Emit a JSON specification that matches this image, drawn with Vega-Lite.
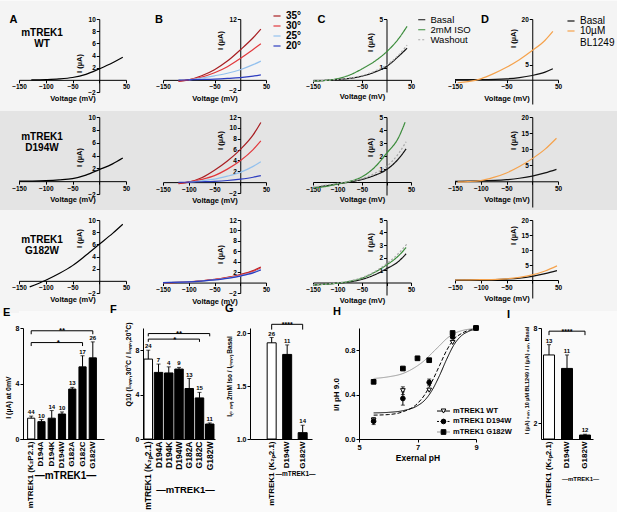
{
  "$schema": "https://vega.github.io/schema/vega-lite/v6.json",
  "background": "#fafafa",
  "padding": 0,
  "datasets": {
    "iv": [
      {"row":"WT","panel":"A","series":"Basal","v":-127,"i":0},{"row":"WT","panel":"A","series":"Basal","v":-100,"i":0.05},{"row":"WT","panel":"A","series":"Basal","v":-75,"i":0.15},{"row":"WT","panel":"A","series":"Basal","v":-50,"i":0.38},{"row":"WT","panel":"A","series":"Basal","v":-25,"i":0.9},{"row":"WT","panel":"A","series":"Basal","v":0,"i":1.8},{"row":"WT","panel":"A","series":"Basal","v":25,"i":2.8},{"row":"WT","panel":"A","series":"Basal","v":44,"i":3.7},
      {"row":"WT","panel":"B","series":"35°","v":-120,"i":-0.3},{"row":"WT","panel":"B","series":"35°","v":-100,"i":0},{"row":"WT","panel":"B","series":"35°","v":-75,"i":0.8},{"row":"WT","panel":"B","series":"35°","v":-50,"i":2.0},{"row":"WT","panel":"B","series":"35°","v":-25,"i":3.7},{"row":"WT","panel":"B","series":"35°","v":0,"i":5.9},{"row":"WT","panel":"B","series":"35°","v":25,"i":8.3},{"row":"WT","panel":"B","series":"35°","v":40,"i":10.0},
      {"row":"WT","panel":"B","series":"30°","v":-120,"i":-0.2},{"row":"WT","panel":"B","series":"30°","v":-100,"i":0},{"row":"WT","panel":"B","series":"30°","v":-75,"i":0.55},{"row":"WT","panel":"B","series":"30°","v":-50,"i":1.4},{"row":"WT","panel":"B","series":"30°","v":-25,"i":2.6},{"row":"WT","panel":"B","series":"30°","v":0,"i":4.2},{"row":"WT","panel":"B","series":"30°","v":25,"i":6.0},{"row":"WT","panel":"B","series":"30°","v":40,"i":7.1},
      {"row":"WT","panel":"B","series":"25°","v":-100,"i":0},{"row":"WT","panel":"B","series":"25°","v":-75,"i":0.35},{"row":"WT","panel":"B","series":"25°","v":-50,"i":0.8},{"row":"WT","panel":"B","series":"25°","v":-25,"i":1.3},{"row":"WT","panel":"B","series":"25°","v":0,"i":2.0},{"row":"WT","panel":"B","series":"25°","v":25,"i":3.0},{"row":"WT","panel":"B","series":"25°","v":40,"i":3.7},
      {"row":"WT","panel":"B","series":"20°","v":-120,"i":-0.05},{"row":"WT","panel":"B","series":"20°","v":-100,"i":0},{"row":"WT","panel":"B","series":"20°","v":-75,"i":0.07},{"row":"WT","panel":"B","series":"20°","v":-50,"i":0.15},{"row":"WT","panel":"B","series":"20°","v":-25,"i":0.28},{"row":"WT","panel":"B","series":"20°","v":0,"i":0.45},{"row":"WT","panel":"B","series":"20°","v":25,"i":0.75},{"row":"WT","panel":"B","series":"20°","v":40,"i":1.0},
      {"row":"WT","panel":"C","series":"Basal","v":-150,"i":-0.1},{"row":"WT","panel":"C","series":"Basal","v":-125,"i":-0.05},{"row":"WT","panel":"C","series":"Basal","v":-100,"i":0.03},{"row":"WT","panel":"C","series":"Basal","v":-75,"i":0.12},{"row":"WT","panel":"C","series":"Basal","v":-50,"i":0.3},{"row":"WT","panel":"C","series":"Basal","v":-25,"i":0.62},{"row":"WT","panel":"C","series":"Basal","v":0,"i":1.1},{"row":"WT","panel":"C","series":"Basal","v":25,"i":1.95},{"row":"WT","panel":"C","series":"Basal","v":42,"i":2.6},
      {"row":"WT","panel":"C","series":"2mM ISO","v":-150,"i":-0.1},{"row":"WT","panel":"C","series":"2mM ISO","v":-125,"i":-0.05},{"row":"WT","panel":"C","series":"2mM ISO","v":-100,"i":0.1},{"row":"WT","panel":"C","series":"2mM ISO","v":-75,"i":0.4},{"row":"WT","panel":"C","series":"2mM ISO","v":-50,"i":0.9},{"row":"WT","panel":"C","series":"2mM ISO","v":-25,"i":1.5},{"row":"WT","panel":"C","series":"2mM ISO","v":0,"i":2.3},{"row":"WT","panel":"C","series":"2mM ISO","v":25,"i":3.4},{"row":"WT","panel":"C","series":"2mM ISO","v":42,"i":4.4},
      {"row":"WT","panel":"C","series":"Washout","v":-150,"i":-0.1},{"row":"WT","panel":"C","series":"Washout","v":-100,"i":0.04},{"row":"WT","panel":"C","series":"Washout","v":-75,"i":0.14},{"row":"WT","panel":"C","series":"Washout","v":-50,"i":0.35},{"row":"WT","panel":"C","series":"Washout","v":-25,"i":0.7},{"row":"WT","panel":"C","series":"Washout","v":0,"i":1.2},{"row":"WT","panel":"C","series":"Washout","v":25,"i":2.05},{"row":"WT","panel":"C","series":"Washout","v":42,"i":2.85},
      {"row":"WT","panel":"D","series":"Basal","v":-150,"i":0},{"row":"WT","panel":"D","series":"Basal","v":-100,"i":0.05},{"row":"WT","panel":"D","series":"Basal","v":-50,"i":0.3},{"row":"WT","panel":"D","series":"Basal","v":-25,"i":0.7},{"row":"WT","panel":"D","series":"Basal","v":0,"i":1.4},{"row":"WT","panel":"D","series":"Basal","v":25,"i":2.5},{"row":"WT","panel":"D","series":"Basal","v":40,"i":3.6},
      {"row":"WT","panel":"D","series":"10µM BL1249","v":-145,"i":-1.0},{"row":"WT","panel":"D","series":"10µM BL1249","v":-125,"i":-0.6},{"row":"WT","panel":"D","series":"10µM BL1249","v":-100,"i":0.3},{"row":"WT","panel":"D","series":"10µM BL1249","v":-75,"i":2.0},{"row":"WT","panel":"D","series":"10µM BL1249","v":-50,"i":4.1},{"row":"WT","panel":"D","series":"10µM BL1249","v":-25,"i":6.6},{"row":"WT","panel":"D","series":"10µM BL1249","v":0,"i":9.6},{"row":"WT","panel":"D","series":"10µM BL1249","v":25,"i":13.0},{"row":"WT","panel":"D","series":"10µM BL1249","v":40,"i":15.9},
      {"row":"D194W","panel":"A","series":"Basal","v":-150,"i":0},{"row":"D194W","panel":"A","series":"Basal","v":-125,"i":0.02},{"row":"D194W","panel":"A","series":"Basal","v":-100,"i":0.08},{"row":"D194W","panel":"A","series":"Basal","v":-75,"i":0.2},{"row":"D194W","panel":"A","series":"Basal","v":-50,"i":0.4},{"row":"D194W","panel":"A","series":"Basal","v":-25,"i":0.95},{"row":"D194W","panel":"A","series":"Basal","v":0,"i":1.8},{"row":"D194W","panel":"A","series":"Basal","v":25,"i":2.7},{"row":"D194W","panel":"A","series":"Basal","v":44,"i":3.6},
      {"row":"D194W","panel":"B","series":"35°","v":-120,"i":-0.3},{"row":"D194W","panel":"B","series":"35°","v":-100,"i":0},{"row":"D194W","panel":"B","series":"35°","v":-75,"i":0.8},{"row":"D194W","panel":"B","series":"35°","v":-50,"i":2.2},{"row":"D194W","panel":"B","series":"35°","v":-25,"i":3.9},{"row":"D194W","panel":"B","series":"35°","v":0,"i":6.0},{"row":"D194W","panel":"B","series":"35°","v":25,"i":8.7},{"row":"D194W","panel":"B","series":"35°","v":40,"i":11.0},
      {"row":"D194W","panel":"B","series":"30°","v":-120,"i":-0.2},{"row":"D194W","panel":"B","series":"30°","v":-100,"i":0},{"row":"D194W","panel":"B","series":"30°","v":-75,"i":0.5},{"row":"D194W","panel":"B","series":"30°","v":-50,"i":1.2},{"row":"D194W","panel":"B","series":"30°","v":-25,"i":2.4},{"row":"D194W","panel":"B","series":"30°","v":0,"i":3.95},{"row":"D194W","panel":"B","series":"30°","v":25,"i":6.0},{"row":"D194W","panel":"B","series":"30°","v":40,"i":7.6},
      {"row":"D194W","panel":"B","series":"25°","v":-100,"i":0},{"row":"D194W","panel":"B","series":"25°","v":-75,"i":0.25},{"row":"D194W","panel":"B","series":"25°","v":-50,"i":0.55},{"row":"D194W","panel":"B","series":"25°","v":-25,"i":1.1},{"row":"D194W","panel":"B","series":"25°","v":0,"i":1.8},{"row":"D194W","panel":"B","series":"25°","v":25,"i":2.9},{"row":"D194W","panel":"B","series":"25°","v":40,"i":3.75},
      {"row":"D194W","panel":"B","series":"20°","v":-120,"i":-0.05},{"row":"D194W","panel":"B","series":"20°","v":-100,"i":0},{"row":"D194W","panel":"B","series":"20°","v":-75,"i":0.07},{"row":"D194W","panel":"B","series":"20°","v":-50,"i":0.15},{"row":"D194W","panel":"B","series":"20°","v":-25,"i":0.3},{"row":"D194W","panel":"B","series":"20°","v":0,"i":0.55},{"row":"D194W","panel":"B","series":"20°","v":25,"i":0.9},{"row":"D194W","panel":"B","series":"20°","v":40,"i":1.2},
      {"row":"D194W","panel":"C","series":"Basal","v":-150,"i":-0.45},{"row":"D194W","panel":"C","series":"Basal","v":-125,"i":-0.3},{"row":"D194W","panel":"C","series":"Basal","v":-100,"i":-0.15},{"row":"D194W","panel":"C","series":"Basal","v":-75,"i":0},{"row":"D194W","panel":"C","series":"Basal","v":-50,"i":0.2},{"row":"D194W","panel":"C","series":"Basal","v":-25,"i":0.5},{"row":"D194W","panel":"C","series":"Basal","v":0,"i":0.95},{"row":"D194W","panel":"C","series":"Basal","v":25,"i":1.8},{"row":"D194W","panel":"C","series":"Basal","v":40,"i":2.55},
      {"row":"D194W","panel":"C","series":"2mM ISO","v":-150,"i":-0.45},{"row":"D194W","panel":"C","series":"2mM ISO","v":-125,"i":-0.35},{"row":"D194W","panel":"C","series":"2mM ISO","v":-100,"i":-0.15},{"row":"D194W","panel":"C","series":"2mM ISO","v":-75,"i":0.05},{"row":"D194W","panel":"C","series":"2mM ISO","v":-50,"i":0.4},{"row":"D194W","panel":"C","series":"2mM ISO","v":-25,"i":1.1},{"row":"D194W","panel":"C","series":"2mM ISO","v":0,"i":2.2},{"row":"D194W","panel":"C","series":"2mM ISO","v":25,"i":3.45},{"row":"D194W","panel":"C","series":"2mM ISO","v":38,"i":4.6},
      {"row":"D194W","panel":"C","series":"Washout","v":-150,"i":-0.4},{"row":"D194W","panel":"C","series":"Washout","v":-100,"i":-0.1},{"row":"D194W","panel":"C","series":"Washout","v":-75,"i":0.05},{"row":"D194W","panel":"C","series":"Washout","v":-50,"i":0.25},{"row":"D194W","panel":"C","series":"Washout","v":-25,"i":0.65},{"row":"D194W","panel":"C","series":"Washout","v":0,"i":1.2},{"row":"D194W","panel":"C","series":"Washout","v":25,"i":2.2},{"row":"D194W","panel":"C","series":"Washout","v":40,"i":3.1},
      {"row":"D194W","panel":"D","series":"Basal","v":-150,"i":0},{"row":"D194W","panel":"D","series":"Basal","v":-100,"i":0.1},{"row":"D194W","panel":"D","series":"Basal","v":-50,"i":0.5},{"row":"D194W","panel":"D","series":"Basal","v":-25,"i":0.95},{"row":"D194W","panel":"D","series":"Basal","v":0,"i":1.6},{"row":"D194W","panel":"D","series":"Basal","v":25,"i":2.6},{"row":"D194W","panel":"D","series":"Basal","v":47,"i":3.7},
      {"row":"D194W","panel":"D","series":"10µM BL1249","v":-145,"i":-0.2},{"row":"D194W","panel":"D","series":"10µM BL1249","v":-125,"i":-0.1},{"row":"D194W","panel":"D","series":"10µM BL1249","v":-100,"i":0.2},{"row":"D194W","panel":"D","series":"10µM BL1249","v":-75,"i":1.2},{"row":"D194W","panel":"D","series":"10µM BL1249","v":-50,"i":2.6},{"row":"D194W","panel":"D","series":"10µM BL1249","v":-25,"i":4.6},{"row":"D194W","panel":"D","series":"10µM BL1249","v":0,"i":7.05},{"row":"D194W","panel":"D","series":"10µM BL1249","v":25,"i":10.0},{"row":"D194W","panel":"D","series":"10µM BL1249","v":47,"i":13.4},
      {"row":"G182W","panel":"A","series":"Basal","v":-130,"i":-1.0},{"row":"G182W","panel":"A","series":"Basal","v":-100,"i":0.1},{"row":"G182W","panel":"A","series":"Basal","v":-75,"i":1.2},{"row":"G182W","panel":"A","series":"Basal","v":-50,"i":2.5},{"row":"G182W","panel":"A","series":"Basal","v":-25,"i":4.2},{"row":"G182W","panel":"A","series":"Basal","v":0,"i":6.0},{"row":"G182W","panel":"A","series":"Basal","v":25,"i":7.8},{"row":"G182W","panel":"A","series":"Basal","v":44,"i":9.3},
      {"row":"G182W","panel":"B","series":"35°","v":-150,"i":0},{"row":"G182W","panel":"B","series":"35°","v":-100,"i":0.15},{"row":"G182W","panel":"B","series":"35°","v":-75,"i":0.35},{"row":"G182W","panel":"B","series":"35°","v":-50,"i":0.6},{"row":"G182W","panel":"B","series":"35°","v":-25,"i":1.0},{"row":"G182W","panel":"B","series":"35°","v":0,"i":1.55},{"row":"G182W","panel":"B","series":"35°","v":25,"i":2.3},{"row":"G182W","panel":"B","series":"35°","v":40,"i":3.0},
      {"row":"G182W","panel":"B","series":"30°","v":-150,"i":0},{"row":"G182W","panel":"B","series":"30°","v":-100,"i":0.15},{"row":"G182W","panel":"B","series":"30°","v":-75,"i":0.33},{"row":"G182W","panel":"B","series":"30°","v":-50,"i":0.57},{"row":"G182W","panel":"B","series":"30°","v":-25,"i":0.95},{"row":"G182W","panel":"B","series":"30°","v":0,"i":1.45},{"row":"G182W","panel":"B","series":"30°","v":25,"i":2.15},{"row":"G182W","panel":"B","series":"30°","v":40,"i":2.85},
      {"row":"G182W","panel":"B","series":"25°","v":-150,"i":0},{"row":"G182W","panel":"B","series":"25°","v":-100,"i":0.12},{"row":"G182W","panel":"B","series":"25°","v":-75,"i":0.3},{"row":"G182W","panel":"B","series":"25°","v":-50,"i":0.52},{"row":"G182W","panel":"B","series":"25°","v":-25,"i":0.85},{"row":"G182W","panel":"B","series":"25°","v":0,"i":1.3},{"row":"G182W","panel":"B","series":"25°","v":25,"i":1.95},{"row":"G182W","panel":"B","series":"25°","v":40,"i":2.55},
      {"row":"G182W","panel":"B","series":"20°","v":-150,"i":0},{"row":"G182W","panel":"B","series":"20°","v":-100,"i":0.12},{"row":"G182W","panel":"B","series":"20°","v":-75,"i":0.28},{"row":"G182W","panel":"B","series":"20°","v":-50,"i":0.5},{"row":"G182W","panel":"B","series":"20°","v":-25,"i":0.8},{"row":"G182W","panel":"B","series":"20°","v":0,"i":1.25},{"row":"G182W","panel":"B","series":"20°","v":25,"i":1.85},{"row":"G182W","panel":"B","series":"20°","v":40,"i":2.4},
      {"row":"G182W","panel":"C","series":"Basal","v":-150,"i":-0.2},{"row":"G182W","panel":"C","series":"Basal","v":-100,"i":-0.05},{"row":"G182W","panel":"C","series":"Basal","v":-75,"i":0.05},{"row":"G182W","panel":"C","series":"Basal","v":-50,"i":0.25},{"row":"G182W","panel":"C","series":"Basal","v":-25,"i":0.6},{"row":"G182W","panel":"C","series":"Basal","v":0,"i":1.1},{"row":"G182W","panel":"C","series":"Basal","v":25,"i":1.7},{"row":"G182W","panel":"C","series":"Basal","v":40,"i":2.3},
      {"row":"G182W","panel":"C","series":"2mM ISO","v":-150,"i":-0.2},{"row":"G182W","panel":"C","series":"2mM ISO","v":-100,"i":-0.05},{"row":"G182W","panel":"C","series":"2mM ISO","v":-75,"i":0.1},{"row":"G182W","panel":"C","series":"2mM ISO","v":-50,"i":0.35},{"row":"G182W","panel":"C","series":"2mM ISO","v":-25,"i":0.8},{"row":"G182W","panel":"C","series":"2mM ISO","v":0,"i":1.4},{"row":"G182W","panel":"C","series":"2mM ISO","v":25,"i":2.15},{"row":"G182W","panel":"C","series":"2mM ISO","v":40,"i":2.8},
      {"row":"G182W","panel":"C","series":"Washout","v":-150,"i":-0.2},{"row":"G182W","panel":"C","series":"Washout","v":-100,"i":-0.03},{"row":"G182W","panel":"C","series":"Washout","v":-75,"i":0.12},{"row":"G182W","panel":"C","series":"Washout","v":-50,"i":0.4},{"row":"G182W","panel":"C","series":"Washout","v":-25,"i":0.85},{"row":"G182W","panel":"C","series":"Washout","v":0,"i":1.5},{"row":"G182W","panel":"C","series":"Washout","v":25,"i":2.35},{"row":"G182W","panel":"C","series":"Washout","v":42,"i":3.1},
      {"row":"G182W","panel":"D","series":"Basal","v":-150,"i":0},{"row":"G182W","panel":"D","series":"Basal","v":-100,"i":0.05},{"row":"G182W","panel":"D","series":"Basal","v":-50,"i":0.3},{"row":"G182W","panel":"D","series":"Basal","v":-25,"i":0.6},{"row":"G182W","panel":"D","series":"Basal","v":0,"i":1.2},{"row":"G182W","panel":"D","series":"Basal","v":25,"i":2.1},{"row":"G182W","panel":"D","series":"Basal","v":48,"i":3.1},
      {"row":"G182W","panel":"D","series":"10µM BL1249","v":-150,"i":0},{"row":"G182W","panel":"D","series":"10µM BL1249","v":-100,"i":0.1},{"row":"G182W","panel":"D","series":"10µM BL1249","v":-50,"i":0.4},{"row":"G182W","panel":"D","series":"10µM BL1249","v":-25,"i":0.9},{"row":"G182W","panel":"D","series":"10µM BL1249","v":0,"i":1.7},{"row":"G182W","panel":"D","series":"10µM BL1249","v":25,"i":3.0},{"row":"G182W","panel":"D","series":"10µM BL1249","v":48,"i":4.7}
    ],
    "bars": [
      {"panel":"E","label":"mTREK1 (K₂P2.1)","group":"WT","value":1.5,"upper":1.65,"n":44},
      {"panel":"E","label":"D194A","group":"mutant","value":1.25,"upper":1.4,"n":10},
      {"panel":"E","label":"D194K","group":"mutant","value":1.5,"upper":2.05,"n":14},
      {"panel":"E","label":"D194W","group":"mutant","value":1.8,"upper":1.95,"n":10},
      {"panel":"E","label":"G182A","group":"mutant","value":3.6,"upper":3.72,"n":13},
      {"panel":"E","label":"G182C","group":"mutant","value":5.2,"upper":6.0,"n":17},
      {"panel":"E","label":"G182W","group":"mutant","value":5.85,"upper":7.0,"n":26},
      {"panel":"F","label":"mTREK1 (K₂ₚ2.1)","group":"WT","value":7.2,"upper":8.0,"n":24},
      {"panel":"F","label":"D194A","group":"mutant","value":6.0,"upper":6.75,"n":7},
      {"panel":"F","label":"D194K","group":"mutant","value":5.95,"upper":6.5,"n":4},
      {"panel":"F","label":"D194W","group":"mutant","value":6.3,"upper":6.45,"n":9},
      {"panel":"F","label":"G182A","group":"mutant","value":4.55,"upper":5.45,"n":13},
      {"panel":"F","label":"G182C","group":"mutant","value":3.7,"upper":4.2,"n":15},
      {"panel":"F","label":"G182W","group":"mutant","value":1.35,"upper":1.45,"n":11},
      {"panel":"G","label":"mTREK1 (K₂ₚ2.1)","group":"WT","value":1.91,"upper":1.96,"n":26},
      {"panel":"G","label":"D194W","group":"mutant","value":1.8,"upper":1.89,"n":11},
      {"panel":"G","label":"G182W","group":"mutant","value":1.06,"upper":1.13,"n":14},
      {"panel":"I","label":"mTREK1 (K₂ₚ2.1)","group":"WT","value":6.3,"upper":6.95,"n":13},
      {"panel":"I","label":"D194W","group":"mutant","value":5.45,"upper":6.3,"n":11},
      {"panel":"I","label":"G182W","group":"mutant","value":1.25,"upper":1.3,"n":12}
    ],
    "brackets": [
      {"panel":"E","from":"mTREK1 (K₂P2.1)","to":"G182W","mid":"D194W","y":7.8,"drop":7.55,"stars":"**"},
      {"panel":"E","from":"mTREK1 (K₂P2.1)","to":"G182C","mid":"D194W","y":6.95,"drop":6.7,"stars":"*"},
      {"panel":"F","from":"mTREK1 (K₂ₚ2.1)","to":"G182W","mid":"D194W","y":9.5,"drop":9.25,"stars":"**"},
      {"panel":"F","from":"mTREK1 (K₂ₚ2.1)","to":"G182C","mid":"D194W","y":9.0,"drop":8.75,"stars":"*"},
      {"panel":"G","from":"mTREK1 (K₂ₚ2.1)","to":"G182W","mid":"D194W","y":2.085,"drop":2.035,"stars":"****"},
      {"panel":"I","from":"mTREK1 (K₂ₚ2.1)","to":"G182W","mid":"D194W","y":7.8,"drop":7.55,"stars":"****"}
    ],
    "phpts": [
      {"series":"mTREK1 WT","ph":5.5,"ratio":0.17,"lo":0.15,"hi":0.19},
      {"series":"mTREK1 WT","ph":6.5,"ratio":0.435,"lo":0.4,"hi":0.47},
      {"series":"mTREK1 WT","ph":7.4,"ratio":0.44},
      {"series":"mTREK1 WT","ph":8.2,"ratio":0.87},
      {"series":"mTREK1 WT","ph":9,"ratio":1.0},
      {"series":"mTREK1 D194W","ph":5.5,"ratio":0.16,"lo":0.13,"hi":0.19},
      {"series":"mTREK1 D194W","ph":6.5,"ratio":0.365,"lo":0.305,"hi":0.425},
      {"series":"mTREK1 D194W","ph":7.4,"ratio":0.51,"lo":0.48,"hi":0.54},
      {"series":"mTREK1 D194W","ph":8.2,"ratio":0.92},
      {"series":"mTREK1 D194W","ph":9,"ratio":1.0},
      {"series":"mTREK1 G182W","ph":5.5,"ratio":0.515},
      {"series":"mTREK1 G182W","ph":6.5,"ratio":0.635},
      {"series":"mTREK1 G182W","ph":7.0,"ratio":0.727},
      {"series":"mTREK1 G182W","ph":7.4,"ratio":0.71},
      {"series":"mTREK1 G182W","ph":8.2,"ratio":0.955},
      {"series":"mTREK1 G182W","ph":9,"ratio":1.0}
    ],
    "fits": [
      {"series":"mTREK1 WT","ph":5.5,"ratio":0.235},{"series":"mTREK1 WT","ph":6,"ratio":0.24},{"series":"mTREK1 WT","ph":6.5,"ratio":0.255},{"series":"mTREK1 WT","ph":7,"ratio":0.3},{"series":"mTREK1 WT","ph":7.25,"ratio":0.35},{"series":"mTREK1 WT","ph":7.5,"ratio":0.44},{"series":"mTREK1 WT","ph":7.75,"ratio":0.57},{"series":"mTREK1 WT","ph":8,"ratio":0.72},{"series":"mTREK1 WT","ph":8.25,"ratio":0.85},{"series":"mTREK1 WT","ph":8.5,"ratio":0.93},{"series":"mTREK1 WT","ph":8.75,"ratio":0.97},{"series":"mTREK1 WT","ph":9,"ratio":0.99},
      {"series":"mTREK1 D194W","ph":5.5,"ratio":0.215},{"series":"mTREK1 D194W","ph":6,"ratio":0.22},{"series":"mTREK1 D194W","ph":6.5,"ratio":0.245},{"series":"mTREK1 D194W","ph":7,"ratio":0.32},{"series":"mTREK1 D194W","ph":7.25,"ratio":0.4},{"series":"mTREK1 D194W","ph":7.5,"ratio":0.52},{"series":"mTREK1 D194W","ph":7.75,"ratio":0.66},{"series":"mTREK1 D194W","ph":8,"ratio":0.8},{"series":"mTREK1 D194W","ph":8.25,"ratio":0.9},{"series":"mTREK1 D194W","ph":8.5,"ratio":0.95},{"series":"mTREK1 D194W","ph":8.75,"ratio":0.98},{"series":"mTREK1 D194W","ph":9,"ratio":0.995},
      {"series":"mTREK1 G182W","ph":5.5,"ratio":0.545},{"series":"mTREK1 G182W","ph":6,"ratio":0.56},{"series":"mTREK1 G182W","ph":6.5,"ratio":0.59},{"series":"mTREK1 G182W","ph":7,"ratio":0.66},{"series":"mTREK1 G182W","ph":7.25,"ratio":0.71},{"series":"mTREK1 G182W","ph":7.5,"ratio":0.775},{"series":"mTREK1 G182W","ph":7.75,"ratio":0.84},{"series":"mTREK1 G182W","ph":8,"ratio":0.905},{"series":"mTREK1 G182W","ph":8.25,"ratio":0.95},{"series":"mTREK1 G182W","ph":8.5,"ratio":0.975},{"series":"mTREK1 G182W","ph":9,"ratio":0.995}
    ]
  },
  "spacing": -11,
  "resolve": {"scale": {"color": "independent", "strokeDash": "independent", "fill": "independent", "shape": "independent"}},
  "vconcat": [
    {
      "columns": 7,
      "spacing": {"row": 13, "column": 0},
      "bounds": "flush",
      "resolve": {"scale": {"color": "independent", "strokeDash": "independent", "fill": "independent", "shape": "independent"}},
      "concat": [
        {
          "width": 107, "height": 73,
          "resolve": {"scale": {"x": "independent", "y": "independent"}},
          "layer": [
            {"data": {"values": [{}]}, "mark": {"type": "rect", "color": "#f4f4f4"},
             "encoding": {"x": {"datum": -185.5, "type": "quantitative", "scale": {"domain": [-150, 50], "nice": false, "zero": false}, "axis": null}, "x2": {"datum": 967.8},
                          "y": {"datum": 12.96, "type": "quantitative", "scale": {"domain": [-2, 10], "nice": false, "zero": false}, "axis": null}, "y2": {"datum": -5.12}}},
            {"data": {"values": [{}]}, "mark": {"type": "text", "fontSize": 11},
             "encoding": {"x": {"datum": -160.3, "type": "quantitative", "scale": {"domain": [-150, 50], "nice": false, "zero": false}, "axis": null},
                          "y": {"datum": 9.84, "type": "quantitative", "scale": {"domain": [-2, 10], "nice": false, "zero": false}, "axis": null}, "text": {"value": "A"}}},
            {"data": {"values": [{}]}, "mark": {"type": "text", "fontSize": 10, "lineHeight": 11},
             "encoding": {"x": {"datum": -107, "type": "quantitative", "scale": {"domain": [-150, 50], "nice": false, "zero": false}, "axis": null},
                          "y": {"datum": 7.78, "type": "quantitative", "scale": {"domain": [-2, 10], "nice": false, "zero": false}, "axis": null}, "text": {"value": ["mTREK1", "WT"]}}},
            {"data": {"name": "iv"}, "transform": [{"filter": "datum.row == 'WT' && datum.panel == 'A'"}],
             "mark": {"type": "line"},
             "encoding": {
               "x": {"field": "v", "type": "quantitative", "scale": {"domain": [-150, 50], "nice": false}, "axis": {"title": "Voltage (mV)", "values": [-150, -100, -50, 0, 50], "labelExpr": "datum.value == 0 ? '' : datum.label", "offset": -12.17, "zindex": 2, "labelOverlap": false}},
               "y": {"field": "i", "type": "quantitative", "scale": {"domain": [-2, 10], "nice": false}, "axis": {"title": "I (µA)", "values": [-2, 2, 4, 6, 8, 10], "offset": -80.25, "titleY": 44, "zindex": 2, "labelOverlap": false}}
             }}
          ]
        },
        {"width": 37, "height": 1, "data": {"values": [{}]}, "mark": {"type": "point", "opacity": 0}, "encoding": {}},
        {
          "width": 103, "height": 71,
          "layer": [
            {"data": {"values": [{}]}, "mark": {"type": "text", "fontSize": 11},
             "encoding": {"x": {"datum": -157.8, "type": "quantitative"}, "y": {"datum": 11.8, "type": "quantitative"}, "text": {"value": "B"}}},
            {"data": {"name": "iv"}, "transform": [{"filter": "datum.row == 'WT' && datum.panel == 'B'"}],
             "mark": {"type": "line"},
             "encoding": {
               "x": {"field": "v", "type": "quantitative", "scale": {"domain": [-150, 50], "nice": false}, "axis": {"title": "Voltage (mV)", "values": [-150, -100, -50, 0, 50], "labelExpr": "datum.value == 0 ? '' : datum.label", "offset": -10.14}},
               "y": {"field": "i", "type": "quantitative", "scale": {"domain": [-2, 12], "nice": false}, "axis": {"title": "I (µA)", "values": [-2, 2, 4, 6, 8, 10, 12], "offset": -77.25, "titleY": 21}},
               "color": {"field": "series", "type": "nominal", "scale": {"domain": ["35°", "30°", "25°", "20°"], "range": ["#a81e22", "#e2383c", "#93c1ee", "#2b3bbf"]}, "legend": {"title": null, "orient": "none", "legendX": 109, "legendY": -8, "labelFontWeight": "bold"}}
             }}
          ]
        },
        {"width": 47, "height": 1, "data": {"values": [{}]}, "mark": {"type": "point", "opacity": 0}, "encoding": {}},
        {
          "width": 98, "height": 73,
          "layer": [
            {"data": {"values": [{}]}, "mark": {"type": "text", "fontSize": 11},
             "encoding": {"x": {"datum": -132.7, "type": "quantitative"}, "y": {"datum": 4.92, "type": "quantitative"}, "text": {"value": "C"}}},
            {"data": {"name": "iv"}, "transform": [{"filter": "datum.row == 'WT' && datum.panel == 'C'"}],
             "mark": {"type": "line"},
             "encoding": {
               "x": {"field": "v", "type": "quantitative", "scale": {"domain": [-150, 50], "nice": false}, "axis": {"title": "Voltage (mV)", "values": [-150, -100, -50, 0, 50], "labelExpr": "datum.value == 0 ? '' : datum.label", "offset": -12.17, "titlePadding": 2}},
               "y": {"field": "i", "type": "quantitative", "scale": {"domain": [-1, 5], "nice": false}, "axis": {"title": "I (µA)", "values": [1, 2, 3, 4, 5], "offset": -73.5, "titleY": 23}},
               "color": {"field": "series", "type": "nominal", "scale": {"domain": ["Basal", "2mM ISO", "Washout"], "range": ["#111111", "#3b8c3b", "#a8a8a8"]}, "legend": {"title": null, "orient": "none", "legendX": 104, "legendY": -4, "labelFontSize": 9.5, "rowPadding": -1}},
               "strokeDash": {"field": "series", "type": "nominal", "scale": {"domain": ["Basal", "2mM ISO", "Washout"], "range": [[1, 0], [1, 0], [2, 2]]}, "legend": {"title": null, "orient": "none", "legendX": 104, "legendY": -4, "labelFontSize": 9.5, "rowPadding": -1}}
             }}
          ]
        },
        {"width": 44, "height": 1, "data": {"values": [{}]}, "mark": {"type": "point", "opacity": 0}, "encoding": {}},
        {
          "width": 103, "height": 85,
          "layer": [
            {"data": {"values": [{}]}, "mark": {"type": "text", "fontSize": 11},
             "encoding": {"x": {"datum": -91.7, "type": "quantitative"}, "y": {"datum": 19.67, "type": "quantitative"}, "text": {"value": "D"}}},
            {"data": {"name": "iv"}, "transform": [{"filter": "datum.row == 'WT' && datum.panel == 'D'"}],
             "mark": {"type": "line"},
             "encoding": {
               "x": {"field": "v", "type": "quantitative", "scale": {"domain": [-150, 50], "nice": false}, "axis": {"title": "Voltage (mV)", "values": [-150, -100, -50, 0, 50], "labelExpr": "datum.value == 0 ? '' : datum.label", "offset": -24.29}},
               "y": {"field": "i", "type": "quantitative", "scale": {"domain": [-8, 20], "nice": false}, "axis": {"title": "I (µA)", "values": [5, 10, 15, 20], "offset": -77.25, "titleY": 19}},
               "color": {"field": "series", "type": "nominal", "scale": {"domain": ["Basal", "10µM BL1249"], "range": ["#111111", "#f5a24c"]}, "legend": {"title": null, "orient": "none", "legendX": 111, "legendY": -3, "labelExpr": "datum.label == '10µM BL1249' ? ['10µM', 'BL1249'] : datum.label"}}
             }}
          ]
        },

        {
          "width": 107, "height": 77,
          "resolve": {"scale": {"x": "independent", "y": "independent"}},
          "layer": [
            {"data": {"values": [{}]}, "mark": {"type": "rect", "color": "#e4e4e4"},
             "encoding": {"x": {"datum": -185.5, "type": "quantitative", "scale": {"domain": [-150, 50], "nice": false, "zero": false}, "axis": null}, "x2": {"datum": 967.8},
                          "y": {"datum": 10.935, "type": "quantitative", "scale": {"domain": [-2, 10], "nice": false, "zero": false}, "axis": null}, "y2": {"datum": -4.49}}},
            {"data": {"values": [{}]}, "mark": {"type": "text", "fontSize": 10, "lineHeight": 11},
             "encoding": {"x": {"datum": -107, "type": "quantitative", "scale": {"domain": [-150, 50], "nice": false, "zero": false}, "axis": null},
                          "y": {"datum": 6.88, "type": "quantitative", "scale": {"domain": [-2, 10], "nice": false, "zero": false}, "axis": null}, "text": {"value": ["mTREK1", "D194W"]}}},
            {"data": {"name": "iv"}, "transform": [{"filter": "datum.row == 'D194W' && datum.panel == 'A'"}],
             "mark": {"type": "line"},
             "encoding": {
               "x": {"field": "v", "type": "quantitative", "scale": {"domain": [-150, 50], "nice": false}, "axis": {"title": "Voltage (mV)", "values": [-150, -100, -50, 0, 50], "labelExpr": "datum.value == 0 ? '' : datum.label", "offset": -12.83, "zindex": 2, "labelOverlap": false}},
               "y": {"field": "i", "type": "quantitative", "scale": {"domain": [-2, 10], "nice": false}, "axis": {"title": "I (µA)", "values": [-2, 2, 4, 6, 8, 10], "offset": -80.25, "titleY": 40, "zindex": 2, "labelOverlap": false}}
             }}
          ]
        },
        {"width": 37, "height": 1, "data": {"values": [{}]}, "mark": {"type": "point", "opacity": 0}, "encoding": {}},
        {
          "width": 103, "height": 76,
          "data": {"name": "iv"}, "transform": [{"filter": "datum.row == 'D194W' && datum.panel == 'B'"}],
          "mark": {"type": "line"},
          "encoding": {
            "x": {"field": "v", "type": "quantitative", "scale": {"domain": [-150, 50], "nice": false}, "axis": {"title": "Voltage (mV)", "values": [-150, -100, -50, 0, 50], "labelExpr": "datum.value == 0 ? '' : datum.label", "offset": -10.86}},
            "y": {"field": "i", "type": "quantitative", "scale": {"domain": [-2, 12], "nice": false}, "axis": {"title": "I (µA)", "values": [-2, 2, 4, 6, 8, 10, 12], "offset": -77.25, "titleY": 23}},
            "color": {"field": "series", "type": "nominal", "scale": {"domain": ["35°", "30°", "25°", "20°"], "range": ["#a81e22", "#e2383c", "#93c1ee", "#2b3bbf"]}, "legend": null}
          }
        },
        {"width": 47, "height": 1, "data": {"values": [{}]}, "mark": {"type": "point", "opacity": 0}, "encoding": {}},
        {
          "width": 98, "height": 78,
          "data": {"name": "iv"}, "transform": [{"filter": "datum.row == 'D194W' && datum.panel == 'C'"}],
          "mark": {"type": "line"},
          "encoding": {
            "x": {"field": "v", "type": "quantitative", "scale": {"domain": [-150, 50], "nice": false}, "axis": {"title": "Voltage (mV)", "values": [-150, -100, -50, 0, 50], "labelExpr": "datum.value == 0 ? '' : datum.label", "offset": -13, "titlePadding": 3}},
            "y": {"field": "i", "type": "quantitative", "scale": {"domain": [-1, 5], "nice": false}, "axis": {"title": "I (µA)", "values": [1, 2, 3, 4, 5], "offset": -73.5, "titleY": 30}},
            "color": {"field": "series", "type": "nominal", "scale": {"domain": ["Basal", "2mM ISO", "Washout"], "range": ["#111111", "#3b8c3b", "#a8a8a8"]}, "legend": null},
            "strokeDash": {"field": "series", "type": "nominal", "scale": {"domain": ["Basal", "2mM ISO", "Washout"], "range": [[1, 0], [1, 0], [2, 2]]}, "legend": null}
          }
        },
        {"width": 44, "height": 1, "data": {"values": [{}]}, "mark": {"type": "point", "opacity": 0}, "encoding": {}},
        {
          "width": 103, "height": 90,
          "data": {"name": "iv"}, "transform": [{"filter": "datum.row == 'D194W' && datum.panel == 'D'"}],
          "mark": {"type": "line"},
          "encoding": {
            "x": {"field": "v", "type": "quantitative", "scale": {"domain": [-150, 50], "nice": false}, "axis": {"title": "Voltage (mV)", "values": [-150, -100, -50, 0, 50], "labelExpr": "datum.value == 0 ? '' : datum.label", "offset": -25.71}},
            "y": {"field": "i", "type": "quantitative", "scale": {"domain": [-8, 20], "nice": false}, "axis": {"title": "I (µA)", "values": [5, 10, 15, 20], "offset": -77.25, "titleY": 23}},
            "color": {"field": "series", "type": "nominal", "scale": {"domain": ["Basal", "10µM BL1249"], "range": ["#111111", "#f5a24c"]}, "legend": null}
          }
        },

        {
          "width": 107, "height": 73,
          "resolve": {"scale": {"x": "independent", "y": "independent"}},
          "layer": [
            {"data": {"values": [{}]}, "mark": {"type": "rect", "color": "#f4f4f4"},
             "encoding": {"x": {"datum": -185.5, "type": "quantitative", "scale": {"domain": [-150, 50], "nice": false, "zero": false}, "axis": null}, "x2": {"datum": 967.8},
                          "y": {"datum": 11.64, "type": "quantitative", "scale": {"domain": [-2, 10], "nice": false, "zero": false}, "axis": null}, "y2": {"datum": -5.29}}},
            {"data": {"values": [{}]}, "mark": {"type": "text", "fontSize": 10, "lineHeight": 11},
             "encoding": {"x": {"datum": -107, "type": "quantitative", "scale": {"domain": [-150, 50], "nice": false, "zero": false}, "axis": null},
                          "y": {"datum": 6.71, "type": "quantitative", "scale": {"domain": [-2, 10], "nice": false, "zero": false}, "axis": null}, "text": {"value": ["mTREK1", "G182W"]}}},
            {"data": {"name": "iv"}, "transform": [{"filter": "datum.row == 'G182W' && datum.panel == 'A'"}],
             "mark": {"type": "line"},
             "encoding": {
               "x": {"field": "v", "type": "quantitative", "scale": {"domain": [-150, 50], "nice": false}, "axis": {"title": "Voltage (mV)", "values": [-150, -100, -50, 0, 50], "labelExpr": "datum.value == 0 ? '' : datum.label", "offset": -12.17, "zindex": 2, "labelOverlap": false}},
               "y": {"field": "i", "type": "quantitative", "scale": {"domain": [-2, 10], "nice": false}, "axis": {"title": "I (µA)", "values": [-2, 2, 4, 6, 8, 10], "offset": -80.25, "titleY": 18, "zindex": 2, "labelOverlap": false}}
             }}
          ]
        },
        {"width": 37, "height": 1, "data": {"values": [{}]}, "mark": {"type": "point", "opacity": 0}, "encoding": {}},
        {
          "width": 103, "height": 73,
          "data": {"name": "iv"}, "transform": [{"filter": "datum.row == 'G182W' && datum.panel == 'B'"}],
          "mark": {"type": "line"},
          "encoding": {
            "x": {"field": "v", "type": "quantitative", "scale": {"domain": [-150, 50], "nice": false}, "axis": {"title": "Voltage (mV)", "values": [-150, -100, -50, 0, 50], "labelExpr": "datum.value == 0 ? '' : datum.label", "offset": -10.43}},
            "y": {"field": "i", "type": "quantitative", "scale": {"domain": [-2, 12], "nice": false}, "axis": {"title": "I (µA)", "values": [-2, 2, 4, 6, 8, 10, 12], "offset": -77.25, "titleY": 34}},
            "color": {"field": "series", "type": "nominal", "scale": {"domain": ["35°", "30°", "25°", "20°"], "range": ["#a81e22", "#e2383c", "#93c1ee", "#2b3bbf"]}, "legend": null}
          }
        },
        {"width": 47, "height": 1, "data": {"values": [{}]}, "mark": {"type": "point", "opacity": 0}, "encoding": {}},
        {
          "width": 98, "height": 75,
          "data": {"name": "iv"}, "transform": [{"filter": "datum.row == 'G182W' && datum.panel == 'C'"}],
          "mark": {"type": "line"},
          "encoding": {
            "x": {"field": "v", "type": "quantitative", "scale": {"domain": [-150, 50], "nice": false}, "axis": {"title": "Voltage (mV)", "values": [-150, -100, -50, 0, 50], "labelExpr": "datum.value == 0 ? '' : datum.label", "offset": -12.5, "titlePadding": 3}},
            "y": {"field": "i", "type": "quantitative", "scale": {"domain": [-1, 5], "nice": false}, "axis": {"title": "I (µA)", "values": [1, 2, 3, 4, 5], "offset": -73.5, "titleY": 22}},
            "color": {"field": "series", "type": "nominal", "scale": {"domain": ["Basal", "2mM ISO", "Washout"], "range": ["#111111", "#3b8c3b", "#a8a8a8"]}, "legend": null},
            "strokeDash": {"field": "series", "type": "nominal", "scale": {"domain": ["Basal", "2mM ISO", "Washout"], "range": [[1, 0], [1, 0], [2, 2]]}, "legend": null}
          }
        },
        {"width": 44, "height": 1, "data": {"values": [{}]}, "mark": {"type": "point", "opacity": 0}, "encoding": {}},
        {
          "width": 103, "height": 78,
          "data": {"name": "iv"}, "transform": [{"filter": "datum.row == 'G182W' && datum.panel == 'D'"}],
          "mark": {"type": "line"},
          "encoding": {
            "x": {"field": "v", "type": "quantitative", "scale": {"domain": [-150, 50], "nice": false}, "axis": {"title": "Voltage (mV)", "values": [-150, -100, -50, 0, 50], "labelExpr": "datum.value == 0 ? '' : datum.label", "offset": -18}},
            "y": {"field": "i", "type": "quantitative", "scale": {"domain": [-6, 20], "nice": false}, "axis": {"title": "I (µA)", "values": [5, 10, 15, 20], "offset": -77.25, "titleY": 15}},
            "color": {"field": "series", "type": "nominal", "scale": {"domain": ["Basal", "10µM BL1249"], "range": ["#111111", "#f5a24c"]}, "legend": null}
          }
        }
      ]
    },
    {
      "spacing": 0,
      "bounds": "flush",
      "resolve": {"scale": {"color": "independent", "strokeDash": "independent", "fill": "independent", "shape": "independent"}},
      "hconcat": [
        {"width": 1, "height": 111, "data": {"values": [{}]}, "mark": {"type": "rect", "color": "#fafafa"},
         "encoding": {"x": {"datum": 0, "type": "quantitative", "scale": {"domain": [0, 1], "nice": false, "zero": false}, "axis": null}, "x2": {"datum": 598},
                      "y": {"datum": 128, "type": "quantitative", "scale": {"domain": [0, 111], "nice": false, "zero": false}, "axis": null}, "y2": {"datum": -73}}},
        {
          "width": 84, "height": 111,
          "title": {"text": "E", "dx": -17, "dy": -2.5},
          "data": {"name": "bars"},
          "transform": [{"filter": "datum.panel == 'E'"}],
          "encoding": {
            "x": {"field": "label", "type": "nominal", "scale": {"domain": ["mTREK1 (K₂P2.1)", "D194A", "D194K", "D194W", "G182A", "G182C", "G182W"], "paddingInner": 0.3, "paddingOuter": 0.74},
                  "axis": {"title": "—mTREK1—", "labelAngle": -90, "ticks": false, "labelPadding": 2, "labelFontSize": 8, "titleFontSize": 10, "titleX": 45, "titleY": 36, "titleBaseline": "middle"}}
          },
          "layer": [
            {"mark": {"type": "bar", "stroke": "#000", "strokeWidth": 1},
             "encoding": {
               "y": {"field": "value", "type": "quantitative", "scale": {"domain": [0, 8], "nice": false}, "axis": {"title": "I (µA) at 0mV", "values": [0, 2, 4, 6, 8], "offset": -3, "titleFontSize": 7, "labelFontSize": 7, "titleY": 69}},
               "fill": {"field": "group", "type": "nominal", "scale": {"domain": ["WT", "mutant"], "range": ["#ffffff", "#000000"]}, "legend": null}
             }},
            {"mark": {"type": "rule"}, "encoding": {"y": {"field": "value", "type": "quantitative"}, "y2": {"field": "upper"}}},
            {"mark": {"type": "tick", "orient": "horizontal", "size": 4, "thickness": 1}, "encoding": {"y": {"field": "upper", "type": "quantitative"}}},
            {"mark": {"type": "text", "fontSize": 6, "baseline": "bottom", "dy": -1}, "encoding": {"y": {"field": "upper", "type": "quantitative"}, "text": {"field": "n", "type": "quantitative"}}},
            {"data": {"name": "brackets"}, "transform": [{"filter": "datum.panel == 'E'"}], "mark": {"type": "rule"},
             "encoding": {"x": {"field": "from", "type": "nominal"}, "x2": {"field": "to"}, "y": {"field": "y", "type": "quantitative"}}},
            {"data": {"name": "brackets"}, "transform": [{"filter": "datum.panel == 'E'"}], "mark": {"type": "rule"},
             "encoding": {"x": {"field": "from", "type": "nominal"}, "y": {"field": "y", "type": "quantitative"}, "y2": {"field": "drop"}}},
            {"data": {"name": "brackets"}, "transform": [{"filter": "datum.panel == 'E'"}], "mark": {"type": "rule"},
             "encoding": {"x": {"field": "to", "type": "nominal"}, "y": {"field": "y", "type": "quantitative"}, "y2": {"field": "drop"}}},
            {"data": {"name": "brackets"}, "transform": [{"filter": "datum.panel == 'E' && datum.stars == '**'"}], "mark": {"type": "text", "fontSize": 8, "baseline": "alphabetic", "dy": 2.5},
             "encoding": {"x": {"field": "mid", "type": "nominal"}, "y": {"field": "y", "type": "quantitative"}, "text": {"field": "stars"}}},
            {"data": {"name": "brackets"}, "transform": [{"filter": "datum.panel == 'E' && datum.stars == '*'"}], "mark": {"type": "text", "fontSize": 8, "baseline": "alphabetic", "dy": 2.5},
             "encoding": {"x": {"field": "mid", "type": "nominal", "bandPosition": 0}, "y": {"field": "y", "type": "quantitative"}, "text": {"field": "stars"}}}
          ]
        },
        {"width": 39, "height": 1, "data": {"values": [{}]}, "mark": {"type": "point", "opacity": 0}, "encoding": {}},
        {
          "width": 72, "height": 111,
          "title": {"text": "F", "dx": -33, "dy": -2.5},
          "data": {"name": "bars"},
          "transform": [{"filter": "datum.panel == 'F'"}],
          "encoding": {
            "x": {"field": "label", "type": "nominal", "scale": {"domain": ["mTREK1 (K₂ₚ2.1)", "D194A", "D194K", "D194W", "G182A", "G182C", "G182W"], "paddingInner": 0.17, "paddingOuter": 0.1},
                  "axis": {"title": "—mTREK1—", "labelAngle": -90, "ticks": false, "labelPadding": 2, "labelFontSize": 8.5, "titleFontSize": 9.5, "titleX": 42, "titleY": 50, "titleBaseline": "middle"}}
          },
          "layer": [
            {"mark": {"type": "bar", "stroke": "#000", "strokeWidth": 1},
             "encoding": {
               "y": {"field": "value", "type": "quantitative", "scale": {"domain": [0, 10], "nice": false}, "axis": {"title": "Q10 (I₀ₘᵥ,30°C / I₀ₘᵥ,20°C)", "values": [0, 2, 4, 6, 8, 10], "titleFontSize": 7, "labelFontSize": 7, "titleY": 36}},
               "fill": {"field": "group", "type": "nominal", "scale": {"domain": ["WT", "mutant"], "range": ["#ffffff", "#000000"]}, "legend": null}
             }},
            {"mark": {"type": "rule"}, "encoding": {"y": {"field": "value", "type": "quantitative"}, "y2": {"field": "upper"}}},
            {"mark": {"type": "tick", "orient": "horizontal", "size": 4, "thickness": 1}, "encoding": {"y": {"field": "upper", "type": "quantitative"}}},
            {"mark": {"type": "text", "fontSize": 6, "baseline": "bottom", "dy": -1}, "encoding": {"y": {"field": "upper", "type": "quantitative"}, "text": {"field": "n", "type": "quantitative"}}},
            {"data": {"name": "brackets"}, "transform": [{"filter": "datum.panel == 'F'"}], "mark": {"type": "rule"},
             "encoding": {"x": {"field": "from", "type": "nominal"}, "x2": {"field": "to"}, "y": {"field": "y", "type": "quantitative"}}},
            {"data": {"name": "brackets"}, "transform": [{"filter": "datum.panel == 'F'"}], "mark": {"type": "rule"},
             "encoding": {"x": {"field": "from", "type": "nominal"}, "y": {"field": "y", "type": "quantitative"}, "y2": {"field": "drop"}}},
            {"data": {"name": "brackets"}, "transform": [{"filter": "datum.panel == 'F'"}], "mark": {"type": "rule"},
             "encoding": {"x": {"field": "to", "type": "nominal"}, "y": {"field": "y", "type": "quantitative"}, "y2": {"field": "drop"}}},
            {"data": {"name": "brackets"}, "transform": [{"filter": "datum.panel == 'F' && datum.stars == '**'"}], "mark": {"type": "text", "fontSize": 8, "baseline": "alphabetic", "dy": 2.5},
             "encoding": {"x": {"field": "mid", "type": "nominal"}, "y": {"field": "y", "type": "quantitative"}, "text": {"field": "stars"}}},
            {"data": {"name": "brackets"}, "transform": [{"filter": "datum.panel == 'F' && datum.stars == '*'"}], "mark": {"type": "text", "fontSize": 8, "baseline": "alphabetic", "dy": 2.5},
             "encoding": {"x": {"field": "mid", "type": "nominal", "bandPosition": 0}, "y": {"field": "y", "type": "quantitative"}, "text": {"field": "stars"}}}
          ]
        },
        {"width": 35, "height": 1, "data": {"values": [{}]}, "mark": {"type": "point", "opacity": 0}, "encoding": {}},
        {
          "width": 62, "height": 111,
          "title": {"text": "G", "dx": -25, "dy": -2.5},
          "data": {"name": "bars"},
          "transform": [{"filter": "datum.panel == 'G'"}],
          "encoding": {
            "x": {"field": "label", "type": "nominal", "scale": {"domain": ["mTREK1 (K₂ₚ2.1)", "D194W", "G182W"], "paddingInner": 0.42, "paddingOuter": 0.71, "align": 0.78},
                  "axis": {"title": "—mTREK1—", "labelAngle": -90, "ticks": false, "labelPadding": 2, "labelFontSize": 8, "titleFontSize": 6.5, "titleX": 45, "titleY": 34, "titleBaseline": "middle"}}
          },
          "layer": [
            {"mark": {"type": "bar", "stroke": "#000", "strokeWidth": 1},
             "encoding": {
               "y": {"field": "value", "type": "quantitative", "scale": {"domain": [1, 2.05], "nice": false}, "axis": {"title": "I₍₀ ₘᵥ₎ 2mM Iso / I₍₀ₘᵥ₎ Basal", "values": [1, 1.5, 2], "format": ".1f", "titleFontSize": 6.5, "labelFontSize": 7, "titleY": 48}},
               "y2": {"datum": 1},
               "fill": {"field": "group", "type": "nominal", "scale": {"domain": ["WT", "mutant"], "range": ["#ffffff", "#000000"]}, "legend": null}
             }},
            {"mark": {"type": "rule"}, "encoding": {"y": {"field": "value", "type": "quantitative"}, "y2": {"field": "upper"}}},
            {"mark": {"type": "tick", "orient": "horizontal", "size": 4, "thickness": 1}, "encoding": {"y": {"field": "upper", "type": "quantitative"}}},
            {"mark": {"type": "text", "fontSize": 6, "baseline": "bottom", "dy": -1}, "encoding": {"y": {"field": "upper", "type": "quantitative"}, "text": {"field": "n", "type": "quantitative"}}},
            {"data": {"name": "brackets"}, "transform": [{"filter": "datum.panel == 'G'"}], "mark": {"type": "rule"},
             "encoding": {"x": {"field": "from", "type": "nominal"}, "x2": {"field": "to"}, "y": {"field": "y", "type": "quantitative"}}},
            {"data": {"name": "brackets"}, "transform": [{"filter": "datum.panel == 'G'"}], "mark": {"type": "rule"},
             "encoding": {"x": {"field": "from", "type": "nominal"}, "y": {"field": "y", "type": "quantitative"}, "y2": {"field": "drop"}}},
            {"data": {"name": "brackets"}, "transform": [{"filter": "datum.panel == 'G'"}], "mark": {"type": "rule"},
             "encoding": {"x": {"field": "to", "type": "nominal"}, "y": {"field": "y", "type": "quantitative"}, "y2": {"field": "drop"}}},
            {"data": {"name": "brackets"}, "transform": [{"filter": "datum.panel == 'G'"}], "mark": {"type": "text", "fontSize": 7, "baseline": "alphabetic", "dy": 2.5},
             "encoding": {"x": {"field": "mid", "type": "nominal"}, "y": {"field": "y", "type": "quantitative"}, "text": {"field": "stars"}}}
          ]
        },
        {"width": 47, "height": 1, "data": {"values": [{}]}, "mark": {"type": "point", "opacity": 0}, "encoding": {}},
        {
          "width": 117, "height": 111,
          "title": {"text": "H", "dx": -26, "dy": -2.5},
          "layer": [
            {"data": {"name": "fits"}, "mark": {"type": "line", "strokeWidth": 1},
             "encoding": {
               "x": {"field": "ph", "type": "quantitative", "scale": {"domain": [5, 9], "nice": false}, "axis": {"title": "Exernal pH", "values": [5, 6, 7, 8, 9], "titleFontSize": 8.5, "labelFontSize": 7.5, "titlePadding": 3}},
               "y": {"field": "ratio", "type": "quantitative", "scale": {"domain": [0, 1], "nice": false}, "axis": {"title": "I/I pH 9.0", "values": [0, 0.2, 0.4, 0.6, 0.8, 1], "format": ".1f", "titleFontSize": 8, "labelFontSize": 7.5, "titleY": 66}},
               "color": {"field": "series", "type": "nominal", "scale": {"domain": ["mTREK1 WT", "mTREK1 D194W", "mTREK1 G182W"], "range": ["#000000", "#000000", "#999999"]}, "legend": null},
               "strokeDash": {"field": "series", "type": "nominal", "scale": {"domain": ["mTREK1 WT", "mTREK1 D194W", "mTREK1 G182W"], "range": [[1, 0], [4, 2], [1, 0]]}, "legend": null}
             }},
            {"data": {"name": "phpts"}, "transform": [{"filter": "isValid(datum.hi)"}], "mark": {"type": "rule"},
             "encoding": {"x": {"field": "ph", "type": "quantitative"}, "y": {"field": "lo", "type": "quantitative"}, "y2": {"field": "hi"}}},
            {"data": {"name": "phpts"}, "transform": [{"filter": "isValid(datum.hi)"}], "mark": {"type": "tick", "orient": "horizontal", "size": 4, "thickness": 1},
             "encoding": {"x": {"field": "ph", "type": "quantitative"}, "y": {"field": "hi", "type": "quantitative"}}},
            {"data": {"name": "phpts"}, "transform": [{"filter": "isValid(datum.hi)"}], "mark": {"type": "tick", "orient": "horizontal", "size": 4, "thickness": 1},
             "encoding": {"x": {"field": "ph", "type": "quantitative"}, "y": {"field": "lo", "type": "quantitative"}}},
            {"data": {"name": "phpts"}, "mark": {"type": "point", "filled": true, "size": 22, "stroke": "#000", "strokeWidth": 1, "opacity": 1},
             "encoding": {
               "x": {"field": "ph", "type": "quantitative"}, "y": {"field": "ratio", "type": "quantitative"},
               "shape": {"field": "series", "type": "nominal", "scale": {"domain": ["mTREK1 WT", "mTREK1 D194W", "mTREK1 G182W"], "range": ["triangle-down", "circle", "square"]}, "legend": null},
               "fill": {"field": "series", "type": "nominal", "scale": {"domain": ["mTREK1 WT", "mTREK1 D194W", "mTREK1 G182W"], "range": ["#ffffff", "#000000", "#000000"]}, "legend": null}
             }},
            {"data": {"values": [{}]}, "mark": {"type": "rule", "color": "#000000", "strokeWidth": 1},
             "encoding": {"x": {"datum": 7.667, "type": "quantitative"}, "x2": {"datum": 8.111}, "y": {"datum": 0.252, "type": "quantitative"}}},
            {"data": {"values": [{}]}, "mark": {"type": "rule", "color": "#000000", "strokeWidth": 1, "strokeDash": [2, 1.5]},
             "encoding": {"x": {"datum": 7.667, "type": "quantitative"}, "x2": {"datum": 8.111}, "y": {"datum": 0.158, "type": "quantitative"}}},
            {"data": {"values": [{}]}, "mark": {"type": "rule", "color": "#999999", "strokeWidth": 1},
             "encoding": {"x": {"datum": 7.667, "type": "quantitative"}, "x2": {"datum": 8.111}, "y": {"datum": 0.063, "type": "quantitative"}}},
            {"data": {"values": [{}]}, "mark": {"type": "point", "shape": "triangle-down", "size": 22, "filled": true, "fill": "#ffffff", "stroke": "#000000", "strokeWidth": 1, "opacity": 1},
             "encoding": {"x": {"datum": 7.889, "type": "quantitative"}, "y": {"datum": 0.252, "type": "quantitative"}}},
            {"data": {"values": [{}]}, "mark": {"type": "point", "shape": "circle", "size": 22, "filled": true, "fill": "#000000", "stroke": "#000000", "strokeWidth": 1, "opacity": 1},
             "encoding": {"x": {"datum": 7.889, "type": "quantitative"}, "y": {"datum": 0.158, "type": "quantitative"}}},
            {"data": {"values": [{}]}, "mark": {"type": "point", "shape": "square", "size": 22, "filled": true, "fill": "#000000", "stroke": "#000000", "strokeWidth": 1, "opacity": 1},
             "encoding": {"x": {"datum": 7.889, "type": "quantitative"}, "y": {"datum": 0.063, "type": "quantitative"}}},
            {"data": {"values": [{}]}, "mark": {"type": "text", "fontSize": 7.5, "align": "left"},
             "encoding": {"x": {"datum": 8.214, "type": "quantitative"}, "y": {"datum": 0.252, "type": "quantitative"}, "text": {"value": "mTREK1 WT"}}},
            {"data": {"values": [{}]}, "mark": {"type": "text", "fontSize": 7.5, "align": "left"},
             "encoding": {"x": {"datum": 8.214, "type": "quantitative"}, "y": {"datum": 0.158, "type": "quantitative"}, "text": {"value": "mTREK1 D194W"}}},
            {"data": {"values": [{}]}, "mark": {"type": "text", "fontSize": 7.5, "align": "left"},
             "encoding": {"x": {"datum": 8.214, "type": "quantitative"}, "y": {"datum": 0.063, "type": "quantitative"}, "text": {"value": "mTREK1 G182W"}}}
          ]
        },
        {"width": 65, "height": 1, "data": {"values": [{}]}, "mark": {"type": "point", "opacity": 0}, "encoding": {}},
        {
          "width": 52, "height": 111,
          "title": {"text": "I", "dx": -34, "dy": -0.5},
          "data": {"name": "bars"},
          "transform": [{"filter": "datum.panel == 'I'"}],
          "encoding": {
            "x": {"field": "label", "type": "nominal", "scale": {"domain": ["mTREK1 (K₂ₚ2.1)", "D194W", "G182W"], "paddingInner": 0.39, "paddingOuter": 0.14},
                  "axis": {"title": "—mTREK1—", "labelAngle": -90, "ticks": false, "labelPadding": 2, "labelFontSize": 8, "titleFontSize": 6, "titleX": 39, "titleY": 39, "titleBaseline": "middle"}}
          },
          "layer": [
            {"mark": {"type": "bar", "stroke": "#000", "strokeWidth": 1},
             "encoding": {
               "y": {"field": "value", "type": "quantitative", "scale": {"domain": [1, 8], "nice": false}, "axis": {"title": "I (µA) ₀ₘᵥ, 10 µM BL1249 / I (µA) ₀ₘᵥ, Basal", "values": [2, 4, 6, 8], "titleFontSize": 5.5, "labelFontSize": 7, "titleY": 52}},
               "y2": {"datum": 1},
               "fill": {"field": "group", "type": "nominal", "scale": {"domain": ["WT", "mutant"], "range": ["#ffffff", "#000000"]}, "legend": null}
             }},
            {"mark": {"type": "rule"}, "encoding": {"y": {"field": "value", "type": "quantitative"}, "y2": {"field": "upper"}}},
            {"mark": {"type": "tick", "orient": "horizontal", "size": 4, "thickness": 1}, "encoding": {"y": {"field": "upper", "type": "quantitative"}}},
            {"mark": {"type": "text", "fontSize": 6, "baseline": "bottom", "dy": -1}, "encoding": {"y": {"field": "upper", "type": "quantitative"}, "text": {"field": "n", "type": "quantitative"}}},
            {"data": {"name": "brackets"}, "transform": [{"filter": "datum.panel == 'I'"}], "mark": {"type": "rule"},
             "encoding": {"x": {"field": "from", "type": "nominal"}, "x2": {"field": "to"}, "y": {"field": "y", "type": "quantitative"}}},
            {"data": {"name": "brackets"}, "transform": [{"filter": "datum.panel == 'I'"}], "mark": {"type": "rule"},
             "encoding": {"x": {"field": "from", "type": "nominal"}, "y": {"field": "y", "type": "quantitative"}, "y2": {"field": "drop"}}},
            {"data": {"name": "brackets"}, "transform": [{"filter": "datum.panel == 'I'"}], "mark": {"type": "rule"},
             "encoding": {"x": {"field": "to", "type": "nominal"}, "y": {"field": "y", "type": "quantitative"}, "y2": {"field": "drop"}}},
            {"data": {"name": "brackets"}, "transform": [{"filter": "datum.panel == 'I'"}], "mark": {"type": "text", "fontSize": 7, "baseline": "alphabetic", "dy": 2.5},
             "encoding": {"x": {"field": "mid", "type": "nominal"}, "y": {"field": "y", "type": "quantitative"}, "text": {"field": "stars"}}}
          ]
        }
      ]
    }
  ],
  "config": {
    "font": "Liberation Sans",
    "view": {"stroke": null},
    "mark": {"color": "#000000"},
    "line": {"strokeWidth": 1.2, "interpolate": "monotone"},
    "text": {"font": "Liberation Sans", "fontWeight": "bold", "color": "#000000"},
    "title": {"fontSize": 11, "fontWeight": "bold", "anchor": "start", "frame": "group", "offset": 0, "color": "#000000", "font": "Liberation Sans"},
    "axis": {
      "domainColor": "#000000", "tickColor": "#000000", "labelColor": "#000000", "titleColor": "#000000",
      "labelFont": "Liberation Sans", "titleFont": "Liberation Sans", "labelFontWeight": "bold", "titleFontWeight": "bold",
      "labelFontSize": 6.5, "titleFontSize": 7.5, "tickSize": 3, "grid": false, "zindex": 1,
      "labelPadding": 1, "titlePadding": 4, "labelFlush": false, "labelOverlap": false
    },
    "legend": {"labelFont": "Liberation Sans", "labelFontSize": 10, "labelColor": "#000000", "rowPadding": 0, "labelOffset": 4, "symbolStrokeWidth": 1.5, "symbolSize": 50}
  }
}
